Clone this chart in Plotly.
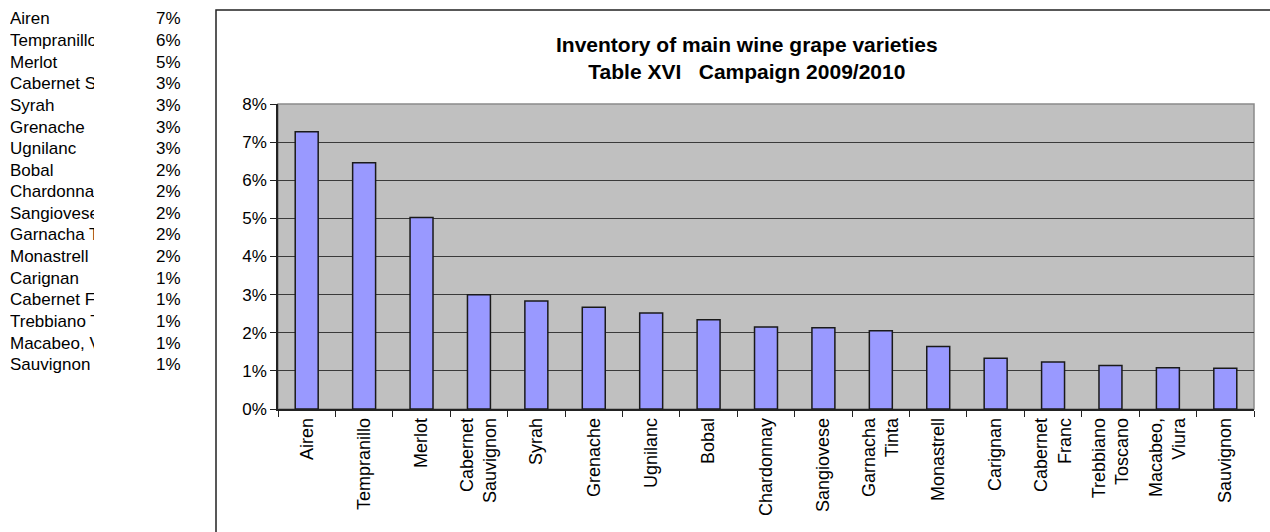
import plotly.graph_objects as go

W, H = 1270, 532

varieties = ["Airen", "Tempranillo", "Merlot", "Cabernet Sauvignon", "Syrah", "Grenache",
             "Ugnilanc", "Bobal", "Chardonnay", "Sangiovese", "Garnacha Tinta", "Monastrell",
             "Carignan", "Cabernet Franc", "Trebbiano Toscano", "Macabeo, Viura", "Sauvignon"]
axis_labels = ["Airen", "Tempranillo", "Merlot", "Cabernet<br>Sauvignon", "Syrah", "Grenache",
               "Ugnilanc", "Bobal", "Chardonnay", "Sangiovese", "Garnacha<br>Tinta", "Monastrell",
               "Carignan", "Cabernet<br>Franc", "Trebbiano<br>Toscano", "Macabeo,<br>Viura", "Sauvignon"]
shares = [7.27, 6.46, 5.02, 3.00, 2.83, 2.67, 2.52, 2.34, 2.15, 2.13, 2.05, 1.64,
          1.33, 1.23, 1.14, 1.08, 1.07]
y_ticks = [0, 1, 2, 3, 4, 5, 6, 7, 8]
y_tick_labels = [f"{t}%" for t in y_ticks]
title_lines = ["Inventory of main wine grape varieties", "Table XVI   Campaign 2009/2010"]

FONT = "Liberation Sans, Arial, sans-serif"

def px(x):
    return x / W

def py(y):
    return 1 - y / H

fig = go.Figure()
fig.add_trace(go.Bar(
    x=varieties, y=shares, width=0.4,
    marker=dict(color="#9999FF", line=dict(color="#1a1a1a", width=1.5)),
    hoverinfo="x+y",
))

# plot area background + grey border
fig.add_shape(type="rect", xref="paper", yref="paper",
              x0=px(278), x1=px(1254), y0=py(409), y1=py(104),
              fillcolor="#C0C0C0", line=dict(color="#8a8a8a", width=1.5), layer="below")
# outer chart frame
fig.add_shape(type="rect", xref="paper", yref="paper",
              x0=px(216), x1=1.2, y0=-0.2, y1=py(10),
              fillcolor="rgba(0,0,0,0)", line=dict(color="#222222", width=1.5), layer="below")

# title
fig.add_annotation(text="<b>" + title_lines[0] + "<br>" + title_lines[1] + "</b>",
                   xref="paper", yref="paper", x=px(747), y=py(58), xanchor="center", yanchor="middle",
                   showarrow=False, font=dict(family=FONT, size=21, color="black"))

# left table (names clipped like narrow spreadsheet cells)
row0, row_h = 19, 21.6
for i, (name, v) in enumerate(zip(varieties, shares)):
    yy = row0 + i * row_h
    fig.add_annotation(text=name[:11], xref="paper", yref="paper", x=px(8), y=py(yy),
                       xanchor="left", yanchor="middle", align="left", width=84,
                       showarrow=False, font=dict(family=FONT, size=17, color="black"))
    fig.add_annotation(text=f"{round(v)}%", xref="paper", yref="paper", x=px(183), y=py(yy),
                       xanchor="right", yanchor="middle", align="right",
                       showarrow=False, font=dict(family=FONT, size=17, color="black"))

fig.update_layout(
    width=W, height=H, margin=dict(l=0, r=0, t=0, b=0, autoexpand=False),
    paper_bgcolor="white", plot_bgcolor="rgba(0,0,0,0)",
    showlegend=False, bargap=0.6,
    xaxis=dict(domain=[px(278), px(1254)], type="category", automargin=False,
               tickmode="array", tickvals=varieties, ticktext=axis_labels,
               tickangle=-90, ticks="outside", tickson="boundaries", ticklen=6,
               tickcolor="#222", showline=True, linecolor="#222", linewidth=1.5,
               showgrid=False, tickfont=dict(family=FONT, size=18, color="black"),
               range=[-0.5, len(varieties) - 0.5]),
    yaxis=dict(domain=[py(409), py(104)], range=[0, 8], automargin=False,
               tickmode="array", tickvals=y_ticks, ticktext=y_tick_labels,
               ticks="outside", ticklen=6, tickcolor="#222",
               showline=True, linecolor="#222", linewidth=1.5,
               showgrid=True, gridcolor="#3a3a3a", gridwidth=1, zeroline=False,
               tickfont=dict(family=FONT, size=17, color="black")),
)

fig.write_html("out.html")
